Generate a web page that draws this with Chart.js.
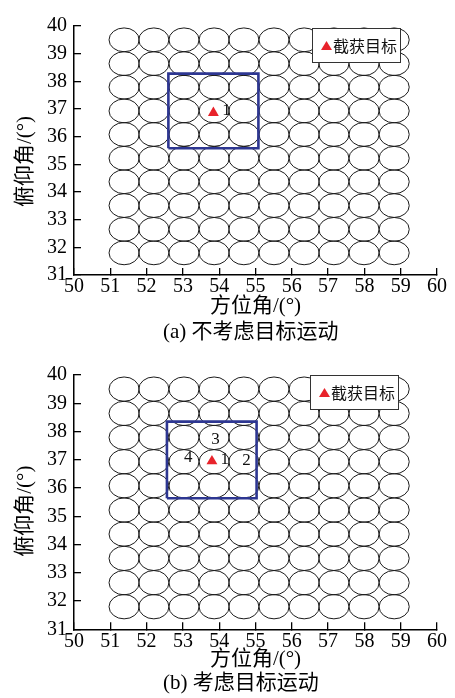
<!DOCTYPE html>
<html>
<head>
<meta charset="utf-8">
<script src="https://cdn.jsdelivr.net/npm/chart.js@4.4.1/dist/chart.umd.min.js"></script>
<style>
  body { margin: 0; background: #fff; }
  canvas { display: block; }
</style>
</head>
<body>
<canvas id="chartA" width="455" height="349"></canvas>
<canvas id="chartB" width="455" height="349"></canvas>
<script>
// beam grid (both panels use the same footprint layout)
const beamAz = [51.38, 52.2, 53.03, 53.86, 54.68, 55.51, 56.34, 57.16, 57.99, 58.82];
const beamEl = [39.5, 38.64, 37.79, 36.93, 36.08, 35.22, 34.37, 33.51, 32.65, 31.8];
const beamHalfAz = 0.415;
const beamHalfEl = 0.43;

// panel (a)
const targetAzA = [53.84];
const targetElA = [36.86];
const boxAzA = [52.6, 55.08, 55.08, 52.6, 52.6];
const boxElA = [35.58, 35.58, 38.28, 38.28, 35.58];
const tagTextA = ['1'];
const tagAzA = [54.2];
const tagElA = [36.93];

// panel (b)
const targetAzB = [53.8];
const targetElB = [36.95];
const boxAzB = [52.56, 55.03, 55.03, 52.56, 52.56];
const boxElB = [35.64, 35.64, 38.35, 38.35, 35.64];
const tagTextB = ['1', '2', '3', '4'];
const tagAzB = [54.15, 54.75, 53.9, 53.15];
const tagElB = [37.0, 36.99, 37.7, 37.07];

const SERIF = '"Liberation Serif", "Noto Sans CJK SC", serif';
const CJK = '"Noto Sans CJK SC", sans-serif';

const beamPlugin = {
  id: 'beams',
  beforeDatasetsDraw(chart) {
    const { ctx, scales: { x, y } } = chart;
    ctx.save();
    ctx.strokeStyle = '#1a1a1a';
    ctx.lineWidth = 1;
    beamEl.forEach(el => beamAz.forEach(az => {
      const cx = x.getPixelForValue(az);
      const cy = y.getPixelForValue(el);
      const rx = x.getPixelForValue(az + beamHalfAz) - cx;
      const ry = cy - y.getPixelForValue(el + beamHalfEl);
      ctx.beginPath();
      ctx.ellipse(cx, cy, rx, ry, 0, 0, Math.PI * 2);
      ctx.stroke();
    }));
    ctx.restore();
  }
};

const overlayPlugin = {
  id: 'overlay',
  afterDraw(chart, args, opts) {
    const { ctx, chartArea: area, scales: { x, y } } = chart;
    ctx.save();
    // numbered beams
    ctx.fillStyle = '#111';
    ctx.font = '17px ' + SERIF;
    ctx.textAlign = 'center';
    ctx.textBaseline = 'middle';
    opts.tagText.forEach((t, i) => {
      ctx.fillText(t, x.getPixelForValue(opts.tagAz[i]), y.getPixelForValue(opts.tagEl[i]));
    });

    // legend box inside the plot
    const bx = area.left + opts.legendLeft, by = area.top + opts.legendTop;
    ctx.fillStyle = '#fff';
    ctx.fillRect(bx, by, 88, 34);
    ctx.strokeStyle = '#333';
    ctx.lineWidth = 1;
    ctx.strokeRect(bx + 0.5, by + 0.5, 88, 34);
    ctx.fillStyle = '#e8232b';
    ctx.beginPath();
    ctx.moveTo(bx + 14.5, by + 13);
    ctx.lineTo(bx + 20, by + 22);
    ctx.lineTo(bx + 9, by + 22);
    ctx.closePath();
    ctx.fill();
    ctx.fillStyle = '#111';
    ctx.font = '16px ' + CJK;
    ctx.textAlign = 'left';
    ctx.fillText(opts.legendText, bx + 21, by + 18);

    // caption under the panel
    ctx.fillStyle = '#000';
    ctx.font = '21px ' + SERIF;
    ctx.fillText(opts.caption, area.left + 89, opts.captionY);

    // y axis title
    ctx.translate(25, (area.top + area.bottom) / 2 + opts.yTitleShift);
    ctx.rotate(-Math.PI / 2);
    ctx.textAlign = 'center';
    ctx.font = '21px ' + SERIF;
    ctx.fillText('俯仰角/(°)', 0, 0);
    ctx.restore();
  }
};

function makeChart(id, spec) {
  const pts = (xs, ys) => xs.map((v, i) => ({ x: v, y: ys[i] }));
  return new Chart(document.getElementById(id), {
    type: 'scatter',
    data: {
      datasets: [
        {
          label: '截获目标',
          data: pts(spec.targetAz, spec.targetEl),
          pointStyle: 'triangle',
          pointRadius: 6.3,
          backgroundColor: '#e8232b',
          borderWidth: 0
        },
        {
          label: 'box',
          data: pts(spec.boxAz, spec.boxEl),
          showLine: true,
          borderColor: '#2d3691',
          borderWidth: 2.6,
          borderJoinStyle: 'miter',
          pointRadius: 0,
          fill: false
        }
      ]
    },
    options: {
      responsive: false,
      animation: false,
      events: [],
      devicePixelRatio: 1,
      layout: { padding: { top: spec.padTop, right: 18, left: 0, bottom: 0 } },
      scales: {
        x: {
          type: 'linear', min: 50, max: 60,
          ticks: { stepSize: 1, autoSkip: false, maxRotation: 0, color: '#000', padding: 7,
                   font: { family: SERIF, size: 20 } },
          grid: { drawOnChartArea: false, drawTicks: true, tickLength: -7, color: '#000', lineWidth: 1.3 },
          border: { display: true, color: '#000', width: 1.5 },
          title: { display: true, text: '方位角/(°)', color: '#000',
                   font: { family: SERIF, size: 21 }, padding: { top: 0, bottom: spec.xTitlePad } },
          afterFit(scale) { scale.height = spec.xScaleH; }
        },
        y: {
          type: 'linear', min: 31, max: 40,
          ticks: { stepSize: 1, autoSkip: false, color: '#000', padding: 14,
                   font: { family: SERIF, size: 20 } },
          grid: { drawOnChartArea: false, drawTicks: true, tickLength: -7, color: '#000', lineWidth: 1.3 },
          border: { display: true, color: '#000', width: 1.5 },
          afterFit(scale) { scale.width = 74; }
        }
      },
      plugins: {
        legend: { display: false },
        tooltip: { enabled: false },
        title: { display: false },
        overlay: {
          tagText: spec.tagText, tagAz: spec.tagAz, tagEl: spec.tagEl,
          legendText: '截获目标', legendLeft: spec.legendLeft, legendTop: spec.legendTop,
          yTitleShift: spec.yTitleShift, caption: spec.caption, captionY: spec.captionY
        }
      }
    },
    plugins: [beamPlugin, overlayPlugin]
  });
}

makeChart('chartA', {
  targetAz: targetAzA, targetEl: targetElA, boxAz: boxAzA, boxEl: boxElA,
  tagText: tagTextA, tagAz: tagAzA, tagEl: tagElA,
  caption: '(a) 不考虑目标运动', captionY: 332.5,
  padTop: 12, xScaleH: 74, xTitlePad: 30,
  legendLeft: 238, legendTop: 2, yTitleShift: 11
});

makeChart('chartB', {
  targetAz: targetAzB, targetEl: targetElB, boxAz: boxAzB, boxEl: boxElB,
  tagText: tagTextB, tagAz: tagAzB, tagEl: tagElB,
  caption: '(b) 考虑目标运动', captionY: 334.3,
  padTop: 16.7, xScaleH: 68.7, xTitlePad: 26,
  legendLeft: 236, legendTop: 0, yTitleShift: 9
});
</script>
</body>
</html>
